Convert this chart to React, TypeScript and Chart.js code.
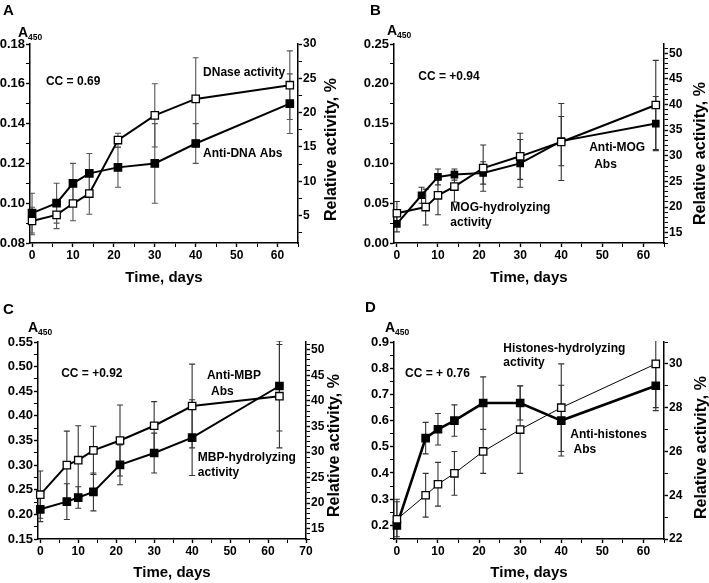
import React, { useEffect, useRef } from "react";
import { Chart, registerables } from "chart.js";

Chart.register(...registerables);

const FONT = "'Liberation Sans', Arial, Helvetica, sans-serif";

// ---------- Panel A : anti-DNA Abs (A450) vs DNase activity (%) ----------
const A_ABS_DAYS = [0, 6, 10, 14, 21, 30, 40, 63];
const A_ABS = [0.095, 0.1, 0.11, 0.115, 0.118, 0.12, 0.13, 0.15];
const A_ABS_ERR = [0.01, 0.01, 0.01, 0.01, 0.01, 0.02, 0.01, 0.015];
const A_ACT_DAYS = [0, 6, 10, 14, 21, 30, 40, 63];
const A_ACT = [4.2, 5.1, 6.75, 8.2, 16.0, 19.6, 22.0, 24.0];
const A_ACT_ERR = [2, 2, 2.5, 3, 1, 4.6, 6, 5];
const A_LEFT_TICKS = [0.08, 0.1, 0.12, 0.14, 0.16, 0.18];
const A_RIGHT_TICKS = [5, 10, 15, 20, 25, 30];

// ---------- Panel B : anti-MOG Abs vs MOG-hydrolyzing activity ----------
const B_ABS_DAYS = [0, 6, 10, 14, 21, 30, 40, 63];
const B_ABS = [0.024, 0.06, 0.083, 0.086, 0.088, 0.1, 0.128, 0.15];
const B_ABS_ERR = [0.01, 0.01, 0.01, 0.007, 0.014, 0.03, 0.031, 0.034];
const B_ACT_DAYS = [0, 7, 10, 14, 21, 30, 40, 63];
const B_ACT = [18.8, 20.0, 22.3, 24.0, 27.6, 29.9, 32.7, 39.9];
const B_ACT_ERR = [2.3, 3.5, 3.8, 3.0, 4.5, 4.5, 7.5, 8.7];
const B_LEFT_TICKS = [0, 0.05, 0.1, 0.15, 0.2, 0.25];
const B_RIGHT_TICKS = [15, 20, 25, 30, 35, 40, 45, 50];

// ---------- Panel C : anti-MBP Abs vs MBP-hydrolyzing activity ----------
const C_DAYS = [0, 7, 10, 14, 21, 30, 40, 63];
const C_ABS = [0.24, 0.3, 0.31, 0.33, 0.35, 0.38, 0.42, 0.44];
const C_ABS_ERR = [0.048, 0.069, 0.07, 0.049, 0.072, 0.049, 0.085, 0.105];
const C_ACT = [18.8, 20.3, 21.1, 22.2, 27.5, 29.8, 32.8, 42.9];
const C_ACT_ERR = [2.4, 3.5, 2.1, 3.7, 3.9, 3.9, 7.4, 8.8];
const C_LEFT_TICKS = [0.15, 0.2, 0.25, 0.3, 0.35, 0.4, 0.45, 0.5, 0.55];
const C_RIGHT_TICKS = [15, 20, 25, 30, 35, 40, 45, 50];

// ---------- Panel D : anti-histones Abs vs histones-hydrolyzing activity ----------
const D_DAYS = [0, 7, 10, 14, 21, 30, 40, 63];
const D_ABS = [0.2, 0.533, 0.567, 0.6, 0.667, 0.667, 0.6, 0.733];
const D_ABS_ERR = [0.1, 0.06, 0.06, 0.06, 0.1, 0.065, 0.135, 0.095];
const D_ACT = [22.9, 24.0, 24.5, 25.0, 26.0, 27.0, 28.0, 30.0];
const D_ACT_ERR = [0.8, 1, 1, 1, 1, 2, 2, 2];
const D_LEFT_TICKS = [0.2, 0.3, 0.4, 0.5, 0.6, 0.7, 0.8, 0.9];
const D_RIGHT_TICKS = [22, 24, 26, 28, 30];

const X_TICKS_60 = [0, 10, 20, 30, 40, 50, 60];
const X_TICKS_70 = [0, 10, 20, 30, 40, 50, 60, 70];

type Series = {
  days: number[];
  values: number[];
  errors: number[];
  axis: "yL" | "yR";
  filled: boolean;
  lineWidth: number;
  radius: number;
};
type AxisCfg = { min: number; max: number; major: number[]; minorStep: number; decimals: number };
type Label = { text: string; x: number; y: number };
type PanelCfg = {
  letter: string;
  left: number;
  top: number;
  w: number;
  h: number;
  padTop: number;
  leftW: number;
  rightW: number;
  xH: number;
  titlePadBottom: number;
  x: AxisCfg;
  yL: AxisCfg;
  yR: AxisCfg;
  series: Series[];
  labels: Label[];
  letterPos: [number, number];
  aPos: [number, number];
  titleDx: number;
  titleDy: number;
  errColor: string;
};

const PANELS: PanelCfg[] = [
  {
    letter: "A", left: 0, top: 0, w: 354, h: 290,
    padTop: 44, leftW: 30, rightW: 56, xH: 47, titlePadBottom: 3,
    x: { min: -0.5, max: 65, major: X_TICKS_60, minorStep: 5, decimals: 0 },
    yL: { min: 0.08, max: 0.18, major: A_LEFT_TICKS, minorStep: 0.01, decimals: 2 },
    yR: { min: 1, max: 30, major: A_RIGHT_TICKS, minorStep: 2.5, decimals: 0 },
    series: [
      { days: A_ACT_DAYS, values: A_ACT, errors: A_ACT_ERR, axis: "yR", filled: false, lineWidth: 2, radius: 5.2 },
      { days: A_ABS_DAYS, values: A_ABS, errors: A_ABS_ERR, axis: "yL", filled: true, lineWidth: 2, radius: 5.2 },
    ],
    labels: [
      { text: "CC = 0.69", x: 3.4, y: 0.161 },
      { text: "DNase activity", x: 41.8, y: 0.1656 },
      { text: "Anti-DNA Abs", x: 41.8, y: 0.1247 },
    ],
    letterPos: [3, 3], aPos: [-12, -7], titleDx: 34, titleDy: 6, errColor: "#555",
  },
  {
    letter: "B", left: 354, top: 0, w: 355, h: 290,
    padTop: 44, leftW: 40, rightW: 45, xH: 47, titlePadBottom: 3,
    x: { min: -0.7, max: 65, major: X_TICKS_60, minorStep: 5, decimals: 0 },
    yL: { min: 0, max: 0.25, major: B_LEFT_TICKS, minorStep: 0.025, decimals: 2 },
    yR: { min: 13, max: 51.8, major: B_RIGHT_TICKS, minorStep: 1, decimals: 0 },
    series: [
      { days: B_ACT_DAYS, values: B_ACT, errors: B_ACT_ERR, axis: "yR", filled: false, lineWidth: 2, radius: 5.2 },
      { days: B_ABS_DAYS, values: B_ABS, errors: B_ABS_ERR, axis: "yL", filled: true, lineWidth: 2, radius: 4.5 },
    ],
    labels: [
      { text: "CC = +0.94", x: 5.2, y: 0.2085 },
      { text: "Anti-MOG", x: 46.8, y: 0.1193 },
      { text: "Abs", x: 48, y: 0.099 },
      { text: "MOG-hydrolyzing", x: 13.0, y: 0.044 },
      { text: "activity", x: 13.0, y: 0.025 },
    ],
    letterPos: [16, 3], aPos: [-7, -9], titleDx: 37, titleDy: 10, errColor: "#333",
  },
  {
    letter: "C", left: 0, top: 290, w: 354, h: 293,
    padTop: 52, leftW: 38, rightW: 48, xH: 44, titlePadBottom: 1,
    x: { min: -0.6, max: 70, major: X_TICKS_70, minorStep: 5, decimals: 0 },
    yL: { min: 0.15, max: 0.55, major: C_LEFT_TICKS, minorStep: 0.025, decimals: 2 },
    yR: { min: 13, max: 51.5, major: C_RIGHT_TICKS, minorStep: 1, decimals: 0 },
    series: [
      { days: C_DAYS, values: C_ABS, errors: C_ABS_ERR, axis: "yL", filled: false, lineWidth: 2, radius: 5.2 },
      { days: C_DAYS, values: C_ACT, errors: C_ACT_ERR, axis: "yR", filled: true, lineWidth: 2, radius: 5.2 },
    ],
    labels: [
      { text: "CC = +0.92", x: 5.5, y: 0.485 },
      { text: "Anti-MBP", x: 43.9, y: 0.481 },
      { text: "Abs", x: 45, y: 0.45 },
      { text: "MBP-hydrolyzing", x: 41.5, y: 0.3145 },
      { text: "activity", x: 41.5, y: 0.284 },
    ],
    letterPos: [3, 12], aPos: [-10, -10], titleDx: 29, titleDy: 5, errColor: "#333",
  },
  {
    letter: "D", left: 354, top: 290, w: 355, h: 293,
    padTop: 52, leftW: 40, rightW: 45, xH: 44, titlePadBottom: 1,
    x: { min: -0.7, max: 65, major: X_TICKS_60, minorStep: 5, decimals: 0 },
    yL: { min: 0.148, max: 0.9, major: D_LEFT_TICKS, minorStep: 0.05, decimals: 1 },
    yR: { min: 22, max: 31, major: D_RIGHT_TICKS, minorStep: 1, decimals: 0 },
    series: [
      { days: D_DAYS, values: D_ACT, errors: D_ACT_ERR, axis: "yR", filled: false, lineWidth: 1, radius: 5.2 },
      { days: D_DAYS, values: D_ABS, errors: D_ABS_ERR, axis: "yL", filled: true, lineWidth: 2.6, radius: 5.2 },
    ],
    labels: [
      { text: "CC = + 0.76", x: 2.0, y: 0.778 },
      { text: "Histones-hydrolyzing", x: 25.9, y: 0.873 },
      { text: "activity", x: 25.9, y: 0.82 },
      { text: "Anti-histones", x: 42.2, y: 0.546 },
      { text: "Abs", x: 43, y: 0.488 },
    ],
    letterPos: [11, 10], aPos: [-9, -10], titleDx: 38, titleDy: 7, errColor: "#333",
  },
];

function isMajor(v: number, major: number[]) {
  return major.some((m) => Math.abs(m - v) < 1e-9);
}

function allTicks(a: AxisCfg) {
  const vals: number[] = [...a.major];
  const k0 = Math.ceil(a.min / a.minorStep - 1e-9);
  const k1 = Math.floor(a.max / a.minorStep + 1e-9);
  for (let k = k0; k <= k1; k++) {
    const v = Math.round(k * a.minorStep * 1e6) / 1e6;
    if (!isMajor(v, a.major)) vals.push(v);
  }
  return vals.sort((p, q) => p - q).map((value) => ({ value }));
}

const errorBarPlugin = {
  id: "errorBars",
  beforeDatasetsDraw(chart: any) {
    const { ctx, chartArea, scales } = chart;
    const o = chart.options.plugins.errorBars || {};
    const cap = 3;
    ctx.save();
    ctx.beginPath();
    ctx.rect(chartArea.left, chartArea.top - 1, chartArea.right - chartArea.left, chartArea.bottom - chartArea.top + 1);
    ctx.clip();
    ctx.strokeStyle = o.color || "#333";
    ctx.lineWidth = o.width || 1.1;
    chart.data.datasets.forEach((ds: any) => {
      const err: number[] = ds.errors;
      if (!err) return;
      const ys = scales[ds.yAxisID];
      const xs = scales.x;
      ds.data.forEach((p: any, i: number) => {
        const px = xs.getPixelForValue(p.x);
        const t = ys.getPixelForValue(p.y + err[i]);
        const b = ys.getPixelForValue(p.y - err[i]);
        ctx.beginPath();
        ctx.moveTo(px, t);
        ctx.lineTo(px, b);
        ctx.moveTo(px - cap, t);
        ctx.lineTo(px + cap, t);
        ctx.moveTo(px - cap, b);
        ctx.lineTo(px + cap, b);
        ctx.stroke();
      });
    });
    ctx.restore();
  },
};

const decorPlugin = {
  id: "decor",
  afterDraw(chart: any) {
    const o = chart.options.plugins.decor;
    if (!o) return;
    const { ctx, chartArea: ca, scales } = chart;
    ctx.save();
    ctx.fillStyle = "#000";
    // panel letter
    ctx.font = `bold 15px ${FONT}`;
    ctx.textAlign = "left";
    ctx.textBaseline = "top";
    ctx.fillText(o.letter, o.letterPos[0], o.letterPos[1]);
    // A450 axis label
    const ax = ca.left + o.aPos[0];
    const ay = ca.top + o.aPos[1];
    ctx.textBaseline = "alphabetic";
    ctx.font = `bold 14px ${FONT}`;
    ctx.fillText("A", ax, ay);
    const w = ctx.measureText("A").width;
    ctx.font = `bold 8.5px ${FONT}`;
    ctx.fillText("450", ax + w, ay + 3);
    // annotations
    ctx.font = `bold 12px ${FONT}`;
    ctx.textBaseline = "middle";
    o.labels.forEach((l: Label) => {
      ctx.fillText(l.text, scales.x.getPixelForValue(l.x), scales.yL.getPixelForValue(l.y));
    });
    // right axis title
    ctx.translate(ca.right + o.titleDx, (ca.top + ca.bottom) / 2 + o.titleDy);
    ctx.rotate(-Math.PI / 2);
    ctx.font = `bold 16px ${FONT}`;
    ctx.textAlign = "center";
    ctx.textBaseline = "middle";
    ctx.fillText("Relative activity, %", 0, 0);
    ctx.restore();
  },
};

function axisOptions(a: AxisCfg, position: string, size: number, fontSize: number, extra: any) {
  return {
    type: "linear",
    position,
    min: a.min,
    max: a.max,
    bounds: "data",
    afterBuildTicks: (scale: any) => {
      scale.ticks = allTicks(a);
    },
    afterFit: (scale: any) => {
      if (position === "bottom") scale.height = size;
      else scale.width = size;
    },
    border: { display: true, color: "#000", width: 1.5 },
    grid: {
      drawOnChartArea: false,
      drawTicks: true,
      tickLength: 4,
      color: "#000",
      tickColor: "#000",
      tickWidth: (c: any) => (c.tick && isMajor(c.tick.value, a.major) ? 1.4 : 1),
    },
    ticks: {
      color: "#000",
      autoSkip: false,
      maxRotation: 0,
      padding: 1,
      font: { family: FONT, size: fontSize, weight: "bold" },
      callback: (v: number) => (isMajor(v, a.major) ? Number(v).toFixed(a.decimals) : ""),
    },
    ...extra,
  };
}

function buildConfig(p: PanelCfg): any {
  const datasets = p.series.map((s) => ({
    data: s.days.map((d, i) => ({ x: d, y: s.values[i] })),
    errors: s.errors,
    yAxisID: s.axis,
    borderColor: "#000",
    borderWidth: s.lineWidth,
    backgroundColor: s.filled ? "#000" : "#fff",
    pointStyle: "rect",
    pointRadius: s.radius,
    pointBackgroundColor: s.filled ? "#000" : "#fff",
    pointBorderColor: "#000",
    pointBorderWidth: 1.3,
    tension: 0,
    showLine: true,
    clip: false,
  }));
  return {
    type: "line",
    data: { datasets },
    plugins: [errorBarPlugin, decorPlugin],
    options: {
      responsive: false,
      animation: false,
      devicePixelRatio: 1,
      layout: { padding: { top: p.padTop, left: 0, right: 0, bottom: 0 } },
      scales: {
        x: axisOptions(p.x, "bottom", p.xH, 12, {
          title: {
            display: true,
            text: "Time, days",
            color: "#000",
            font: { family: FONT, size: 15, weight: "bold" },
            padding: { top: 0, bottom: p.titlePadBottom },
          },
        }),
        yL: axisOptions(p.yL, "left", p.leftW, 13, {}),
        yR: axisOptions(p.yR, "right", p.rightW, 12, {}),
      },
      plugins: {
        legend: { display: false },
        tooltip: { enabled: false },
        errorBars: { color: p.errColor, width: 1.1 },
        decor: {
          letter: p.letter,
          letterPos: p.letterPos,
          aPos: p.aPos,
          labels: p.labels,
          titleDx: p.titleDx,
          titleDy: p.titleDy,
        },
      },
    },
  };
}

function Panel({ cfg }: { cfg: PanelCfg }) {
  const ref = useRef<HTMLCanvasElement>(null);
  useEffect(() => {
    if (!ref.current) return;
    const chart = new Chart(ref.current, buildConfig(cfg));
    return () => chart.destroy();
  }, [cfg]);
  return (
    <canvas
      ref={ref}
      width={cfg.w}
      height={cfg.h}
      style={{ position: "absolute", left: cfg.left, top: cfg.top, width: cfg.w, height: cfg.h }}
    />
  );
}

export default function App() {
  return (
    <div style={{ position: "absolute", left: 0, top: 0, width: 709, height: 583, background: "#fff", overflow: "hidden" }}>
      {PANELS.map((p) => (
        <Panel key={p.letter} cfg={p} />
      ))}
    </div>
  );
}
